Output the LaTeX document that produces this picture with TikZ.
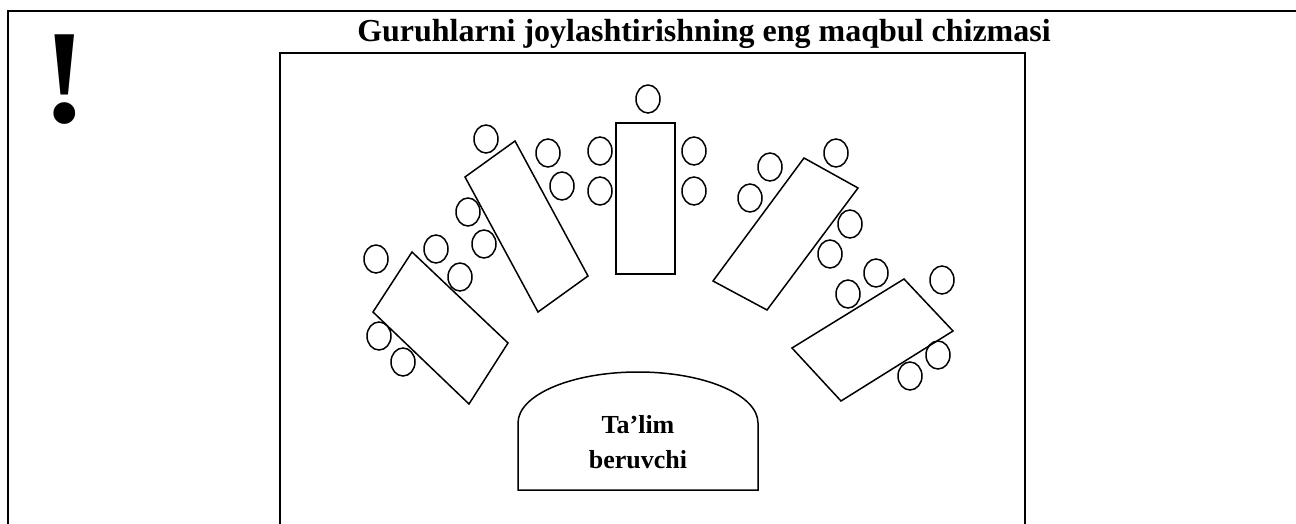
\documentclass[tikz,border=0pt]{standalone}
\usepackage{fontspec}
\setmainfont{Liberation Serif}

\begin{document}
\begin{tikzpicture}[x=1pt,y=-1pt,
  chair/.style={line width=1.5pt},
  desk/.style={line width=1.5pt,line join=miter}]
\useasboundingbox (0,0) rectangle (1296,524);
% frame
\draw[line width=2.2pt] (8,524) -- (8,11) -- (1296,11);
\draw[line width=1.7pt] (280,524) -- (280,53) -- (1025,53) -- (1025,524);
\node (excl) at (65,123) [anchor=base,inner sep=0pt] {\fontsize{134}{134}\selectfont\bfseries !};
\node (title) at (704,42) [anchor=base,inner sep=0pt] {\fontsize{32}{38}\selectfont\bfseries Guruhlarni joylashtirishning eng maqbul chizmasi};
% tables
\draw[desk] (412,252) -- (508,343) -- (469,404) -- (373,312) -- cycle;
\draw[desk] (515,141) -- (588,276) -- (538,312) -- (465,177) -- cycle;
\draw[desk] (616,123) rectangle (675,274);
\draw[desk] (804,158) -- (858,188) -- (767,310) -- (713,281) -- cycle;
\draw[desk] (904,279) -- (953,331) -- (841,401) -- (792,348) -- cycle;
% chairs
\foreach \x/\y in {376/259, 436/249, 460/277, 379/336, 403/362,
                   486/139, 548/153, 562/186, 468/212, 484/244,
                   648/99, 600/151, 600/191, 694/151, 694/191,
                   770/167, 750/198, 836/153, 850/224, 830/254,
                   876/273, 848/294, 942/280, 938/355, 910/376}
  \draw[chair] (\x,\y) ellipse [x radius=12,y radius=14];
% teacher
\draw[desk] (518,490) -- (518,423) arc [start angle=180,end angle=360,x radius=120,y radius=51] -- (758,490) -- cycle;
\node (teacher) at (638,442) [align=center,font=\fontsize{26}{35}\selectfont\bfseries] {Ta’lim\\beruvchi};
\end{tikzpicture}
\end{document}
